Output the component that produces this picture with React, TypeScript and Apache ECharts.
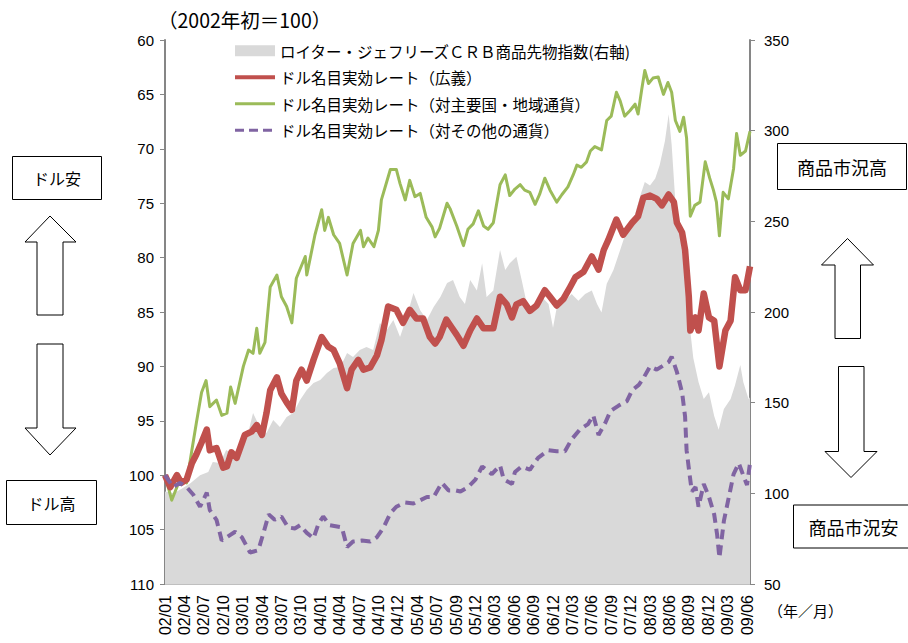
import React, { useEffect, useRef } from 'react';
import * as echarts from 'echarts';

// x = week index from 2002/01/04 (weekly data), labels every 13 weeks
const tickLabels = ['02/01','02/04','02/07','02/10','03/01','03/04','03/07','03/10','04/01','04/04','04/07','04/10','04/12','05/04','05/07','05/09','05/12','06/03','06/06','06/09','06/12','07/03','07/06','07/09','07/12','08/03','08/06','08/09','08/12','09/03','09/06'];

const legendNames = [
  'ロイター・ジェフリーズＣＲＢ商品先物指数(右軸)',
  'ドル名目実効レート（広義）',
  'ドル名目実効レート（対主要国・地域通貨）',
  'ドル名目実効レート（対その他の通貨）',
];

// [week, value] right axis
const crbIndex = [[0,101],[6,100],[12,103],[17,105.6],[23.5,110],[29,111.7],[32,117.3],[37,116.7],[41,123.9],[48,120],[54.5,129.4],[59,144.3],[63.5,136.6],[68,133.3],[72.5,140.4],[77,136.6],[81.5,142.1],[86,144.3],[90.5,151.5],[95,157],[99.5,160.8],[104,162.5],[108.5,166.3],[113,169.1],[117.5,169.7],[122,177.4],[126,175.2],[130.5,179],[135,180.7],[139.5,179],[144,193.9],[148.5,190],[153,195.6],[157.5,186.2],[162,197.2],[166.5,210.5],[171,201],[175.5,195.6],[180,202.8],[184.5,208.3],[189,216],[193,217.6],[197.5,208.3],[201,204.4],[204.5,217.6],[209,211.9],[212.5,226.9],[215.5,208.3],[220,211.9],[224.5,234.2],[228,223.2],[231,226.9],[235.5,230.5],[239,217.6],[243.5,200.5],[248,204.4],[252.5,208.3],[257,204.4],[260,191.3],[262.5,202.5],[268,206.2],[272.5,209.9],[277,206.2],[281.5,209.9],[286,211.9],[289.5,204.4],[292.5,199.7],[296,215.6],[300.5,223.2],[305,234.2],[309.5,245.5],[314,251.3],[318.5,264.2],[321.5,271.7],[325,269.8],[328.5,273.6],[331.5,281.1],[335,294.3],[337.5,309],[339.5,292.3],[342,260.7],[345.5,241.9],[347.5,226.9],[349.5,208.3],[352,189.5],[354,174.6],[357.5,161.4],[361,152],[364.5,155.8],[368,142.6],[371,135],[374.5,146.5],[379,152],[382,159.7],[385.5,170.8],[387.5,161.4],[391,152],[392,153]];

// [week, value] left axis
const broadRate = [[0,100],[3.5,101.1],[8,100],[11,100.7],[14.5,100.4],[18,98.9],[21,98.1],[24.5,97],[28,95.8],[30,97.7],[34.5,97.5],[39,99.3],[41.5,99.2],[44.5,97.9],[48,98.4],[53.5,96.3],[58,96],[61.5,95.4],[65,96.3],[68,94.3],[70.5,92.2],[75,91],[78,92.5],[81.5,93.3],[85,94],[88,91.3],[91.5,90.3],[95,91.3],[99.5,89.4],[105,87.3],[109.5,88.2],[113,88.5],[117,89.7],[122,92],[125,90.3],[129.5,89.4],[133,90.3],[137.5,90.1],[142,89],[145,87.6],[149.5,84.5],[155,84.8],[159.5,86],[164,84.8],[168.5,85.6],[173,85.6],[177.5,87.3],[181,87.9],[184,87.3],[188.5,85.7],[192,86.4],[195.5,87.1],[200,88.1],[204.5,86.7],[209,85.6],[213.5,86.5],[220,86.5],[224.5,83.6],[229,84.3],[232.5,85.5],[235.5,84.3],[240,84],[244.5,84.9],[249,84.4],[254.5,83],[258,83.6],[262.5,84.4],[267,83.8],[271.5,82.7],[275,81.8],[280.5,81.3],[286,79.9],[290.5,81.1],[294,79.3],[297,78.4],[302.5,76.5],[307,77.9],[313,76.8],[317,76.2],[320.5,74.5],[325,74.3],[329.5,74.6],[333,75.2],[337.5,74.2],[341,74.9],[343,76.8],[346.5,77.7],[348.5,79.3],[351,83.6],[352,86.7],[355.5,85.5],[357.5,86.7],[361,83.3],[364.5,85.5],[368,85.8],[371.5,90],[375.5,86.7],[379,85.8],[382,81.8],[385.5,83],[389,83],[392,80.8]];

const majorRate = [[0,100],[4.5,102.3],[10,100.4],[14.5,100.7],[18,97.7],[21,95.2],[24.5,92.4],[27.5,91.3],[30,93.7],[34.5,93.1],[38,94.5],[41.5,94.3],[44,91.9],[47,93.4],[52.5,90],[56,88.5],[59,88.8],[61.5,86.5],[63.5,88.8],[67,87.8],[70.5,82.7],[75,81.6],[78,83.6],[81.5,84.5],[85,86],[88,81.9],[94,79.9],[95,81.6],[100.5,77.9],[105,75.6],[107,77.5],[109.5,76.3],[113,77.9],[117,78.7],[122,81.6],[126,78.7],[131,77.5],[133,79],[136,78.2],[140,79],[143,77.5],[145,74.7],[151,71.9],[155,71.9],[157.5,73.2],[161,74.7],[164,72.9],[167.5,74.4],[171,74.1],[175,76.3],[179,77.2],[181,78.1],[184,77.3],[189,75],[191,75.5],[195.5,77.1],[200,78.9],[203,77.4],[206.5,76.9],[210,75.7],[213.5,77.1],[216.5,77.4],[220,76.8],[224.5,73.3],[228,72.4],[231,74.3],[234.5,73.7],[238,73.3],[241,73.8],[244.5,74],[248,75.1],[251,74.2],[254.5,72.7],[258,73.8],[262.5,74.9],[266,74.2],[270,73.5],[273.5,72.4],[276,71.5],[279,71.7],[282.5,71.2],[285,70.2],[288,69.8],[292.5,70.1],[296,67.4],[299,67],[302.5,64.8],[305,65.6],[308,67],[311.5,66.5],[315,65.9],[317,66.8],[319.5,64.5],[321.5,62.8],[324,64],[327,63.5],[330.5,63.4],[334,65],[337,63.9],[339.5,64.8],[342,67.4],[345,68.4],[347.5,67.1],[349.5,69],[352,76.2],[355,75.2],[358.5,74.9],[362,71.2],[365,72.7],[367.5,73.8],[369.5,74.9],[371.5,78],[374,74],[377.5,74.6],[381,71.8],[383,68.6],[385.5,70.6],[389,70.2],[392,68.4]];

const otherRate = [[0,100],[5.5,101.1],[10,100.7],[14.5,101.1],[19,101.8],[23.5,102.9],[28,101.6],[30,103.2],[34.5,104.1],[38,106],[41.5,105.7],[47,105.2],[51.5,105.7],[55,106.6],[57,107.1],[62.5,106.9],[66,105.3],[69.5,103.6],[73.5,104.1],[78,103.8],[82.5,104.8],[87,104.9],[90.5,104.6],[95,105.3],[99.5,105.8],[103,104.4],[106,103.8],[110.5,104.6],[118.5,104.8],[122,106.6],[126,106.1],[132,106],[137.5,106.1],[142,105.7],[146.5,104.8],[151,103.5],[155,102.9],[161,102.5],[166.5,102.6],[171,102.3],[175.5,102],[180,102],[185.5,100.7],[190,101.4],[195,101.4],[198,101.5],[203,101.1],[208,100.4],[212.5,99.2],[219,99.9],[224.5,99.1],[227,100.4],[232.5,100.8],[234.5,99.7],[239,99.2],[244.5,99.5],[250,98.4],[257,97.7],[262.5,97.8],[268,97.8],[272.5,96.7],[278,95.8],[283.5,95.3],[287,94.5],[290.5,96.3],[295,95.2],[298.5,94.1],[304,93.6],[309.5,93.2],[313,92.2],[317.5,91.7],[320.5,91.1],[325,90],[329.5,90.3],[333,90],[337.5,89.6],[339.5,89.1],[343,90.5],[346.5,92.4],[348.5,94.6],[349.5,97.7],[351.5,99.9],[353,101.5],[355.5,101.1],[357.5,102.9],[361,100.8],[364.5,102],[368,103.6],[370,105.5],[371.5,107.6],[374.5,104.2],[378,101.9],[381,99.9],[384.5,98.9],[388,100.2],[390,100.9],[392,98.9]];

const NUM_FONT = '"Liberation Sans", Arial, sans-serif';
const JP_FONT = '"Noto Sans CJK JP", sans-serif';

function box(x: number, y: number, w: number, h: number, label: string, fontSize: number) {
  return [
    { type: 'rect', shape: { x, y, width: w, height: h }, style: { fill: '#fff', stroke: '#000', lineWidth: 1 } },
    { type: 'text', x: x + w / 2, y: y + h / 2, style: { text: label, fontSize, fontFamily: JP_FONT, fill: '#000', align: 'center', verticalAlign: 'middle' } },
  ];
}

function arrow(points: number[][]) {
  return { type: 'polygon', shape: { points }, style: { fill: '#fff', stroke: '#000', lineWidth: 1 } };
}

export default function App() {
  const ref = useRef<HTMLDivElement>(null);
  useEffect(() => {
    const chart = echarts.init(ref.current!, null, { renderer: 'svg' });
    const axisLineStyle = { color: '#868686', width: 2 };
    const option: any = {
      animation: false,
      backgroundColor: '#fff',
      grid: { left: 165, right: 158, top: 40, bottom: 59 },
      legend: {
        orient: 'vertical',
        left: 228,
        top: 38,
        padding: 5,
        itemWidth: 40,
        itemHeight: 11,
        itemGap: 11,
        textStyle: { fontSize: 15.5, fontFamily: JP_FONT, color: '#000' },
        data: [
          { name: legendNames[0], icon: 'rect', itemStyle: { color: '#d9d9d9' } },
          { name: legendNames[1], itemStyle: { opacity: 0 }, lineStyle: { width: 4, color: '#C0504D' } },
          { name: legendNames[2], itemStyle: { opacity: 0 }, lineStyle: { width: 3, color: '#9BBB59' } },
          { name: legendNames[3], itemStyle: { opacity: 0 }, lineStyle: { width: 3, color: '#8064A2', type: [9, 5] } },
        ],
      },
      xAxis: {
        type: 'value',
        min: 0,
        max: 392,
        interval: 13,
        axisLine: { show: true, lineStyle: { color: '#bfbfbf', width: 1 } },
        axisTick: { show: false },
        splitLine: { show: false },
        axisLabel: {
          rotate: 90,
          margin: 11,
          fontSize: 16,
          color: '#000',
          fontFamily: NUM_FONT,
          showMaxLabel: false,
          formatter: (v: number) => {
            const i = Math.round(v / 13);
            return Math.abs(v - i * 13) < 1e-6 && tickLabels[i] ? tickLabels[i] : '';
          },
        },
      },
      yAxis: [
        {
          type: 'value', position: 'left', inverse: true, min: 60, max: 110, interval: 5,
          axisLine: { show: true, lineStyle: axisLineStyle },
          axisTick: { show: true, length: 5, lineStyle: { color: '#868686' } },
          splitLine: { show: false },
          axisLabel: { fontSize: 15, color: '#000', fontFamily: NUM_FONT, margin: 11 },
        },
        {
          type: 'value', position: 'right', min: 50, max: 350, interval: 50,
          axisLine: { show: true, lineStyle: axisLineStyle },
          axisTick: { show: true, length: 5, lineStyle: { color: '#868686' } },
          splitLine: { show: false },
          axisLabel: { fontSize: 15, color: '#000', fontFamily: NUM_FONT, margin: 14 },
        },
      ],
      series: [
        {
          name: legendNames[0], type: 'line', yAxisIndex: 1, data: crbIndex, symbol: 'none',
          itemStyle: { color: '#d9d9d9' },
          lineStyle: { width: 0, color: '#d9d9d9' },
          areaStyle: { color: '#d9d9d9', opacity: 1, origin: 'start' },
          z: 1,
        },
        {
          name: legendNames[2], type: 'line', yAxisIndex: 0, data: majorRate, symbol: 'none',
          itemStyle: { color: '#9BBB59' },
          lineStyle: { width: 3, color: '#9BBB59', join: 'round' },
          z: 2,
        },
        {
          name: legendNames[1], type: 'line', yAxisIndex: 0, data: broadRate, symbol: 'none',
          itemStyle: { color: '#C0504D' },
          lineStyle: { width: 6.5, color: '#C0504D', join: 'round' },
          z: 3,
        },
        {
          name: legendNames[3], type: 'line', yAxisIndex: 0, data: otherRate, symbol: 'none',
          itemStyle: { color: '#8064A2' },
          lineStyle: { width: 4, color: '#8064A2', type: [10, 6] },
          z: 4,
        },
      ],
      graphic: [
        { type: 'text', left: 158, top: 10, style: { text: '（2002年初＝100）', fontSize: 19.5, fontFamily: JP_FONT, fill: '#000' } },
        { type: 'text', left: 768, top: 603, style: { text: '（年／月）', fontSize: 15, fontFamily: JP_FONT, fill: '#000' } },
        ...box(12.5, 156.5, 89, 43, 'ドル安', 16),
        arrow([[50, 216], [76, 242], [63, 242], [63, 315], [37, 315], [37, 242], [25, 242]]),
        arrow([[37, 344], [63, 344], [63, 428], [76, 428], [50, 455], [25, 428], [37, 428]]),
        ...box(6.5, 480.5, 90, 44, 'ドル高', 16),
        ...box(777.5, 143.5, 129, 46, '商品市況高', 18),
        arrow([[847.5, 238.5], [873.5, 265], [860.5, 265], [860.5, 338.5], [835, 338.5], [835, 265], [821.5, 265]]),
        arrow([[838.5, 366.5], [864, 366.5], [864, 451.5], [877, 451.5], [851, 477.5], [825, 451.5], [838.5, 451.5]]),
        ...box(793.5, 505, 120, 43, '商品市況安', 18),
      ],
    };
    chart.setOption(option);
    return () => chart.dispose();
  }, []);
  return <div ref={ref} style={{ position: 'fixed', left: 0, top: 0, width: 908, height: 643 }} />;
}
